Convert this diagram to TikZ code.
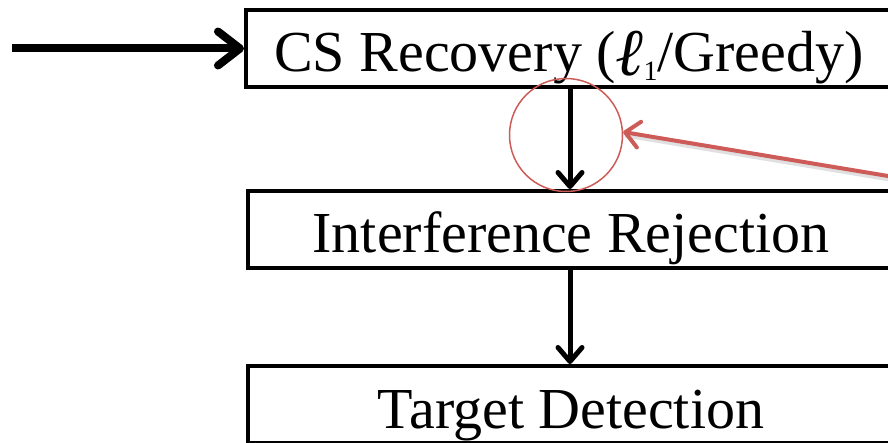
\documentclass[tikz,border=0pt]{standalone}
\usepackage{fontspec}
\setmainfont{Liberation Serif}
\usepackage{graphicx}
\usetikzlibrary{arrows.meta}
\definecolor{markred}{RGB}{205,92,88}
% script ell with a small subscript one, set in text fonts
\newcommand{\ellone}{\raisebox{-4pt}{\scalebox{1.15}{\itshape ℓ}}\raisebox{-9pt}{\fontsize{28}{28}\selectfont 1}}
\tikzset{
  stepbox/.style={draw, line width=4pt, minimum width=646pt, minimum height=77pt,
    inner sep=0pt, text height=52pt, text depth=5pt,
    font=\fontsize{58}{68}\selectfont},
  flow/.style={line width=5pt, -{Straight Barb[length=14pt,width=24pt,round]}},
  feed/.style={line width=8pt, -{Straight Barb[length=22pt,width=34pt,round]}},
  ring/.style={draw=markred, circle, line width=1.5pt, minimum size=113pt, inner sep=0pt},
  pointer/.style={draw=markred, line width=4pt, -{Straight Barb[length=14pt,width=26pt,round]}},
  pointershade/.style={draw=black!35, opacity=0.35, line width=5pt}
}
\begin{document}
\begin{tikzpicture}[x=1pt,y=-1pt]
  \useasboundingbox (0,0) rectangle (888,443);
  % processing chain
  \node[stepbox] (cs)  at (569,48.5)  {CS Recovery (\ellone/Greedy)};
  \node[stepbox] (ir)  at (571,229.5) {Interference Rejection};
  \node[stepbox] (td)  at (571,404.5) {Target Detection};
  % input into the first stage
  \coordinate (in) at (12,48.5);
  \draw[feed] (in) -- (cs.west);
  % stage-to-stage connectors
  \draw[flow] (cs.south -| 570,0) -- (ir.north -| 570,0);
  \draw[flow] (ir.south -| 570,0) -- (td.north -| 570,0);
  % highlight on the first connector
  \node[ring] (hl) at (566,135) {};
  \coordinate (src) at (900,178);
  \coordinate (srcs) at (902,181);
  \draw[pointershade] (srcs) -- ([shift={(2pt,-3pt)}]hl.3);
  \draw[pointer] (src) -- (hl.3);
\end{tikzpicture}
\end{document}
